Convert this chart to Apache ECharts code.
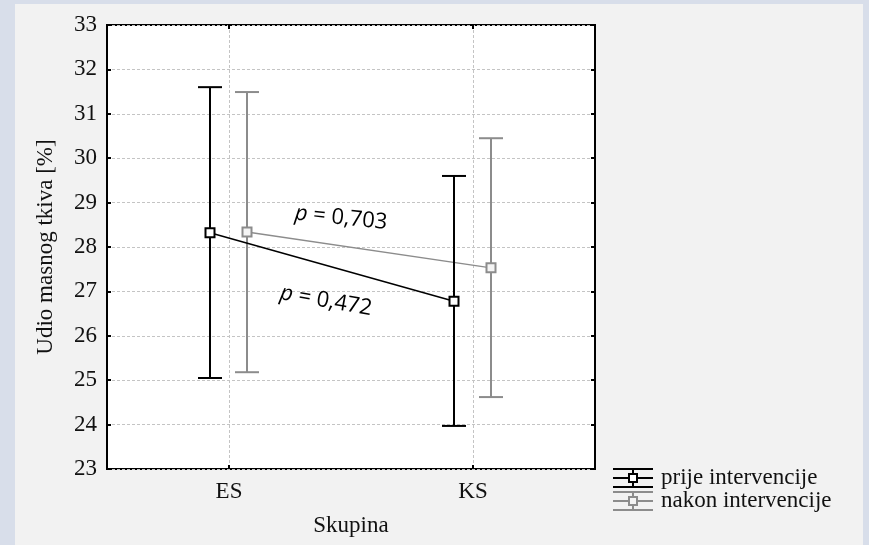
<!DOCTYPE html>
<html>
<head>
<meta charset="utf-8">
<script src="https://cdn.jsdelivr.net/npm/echarts@6/dist/echarts.min.js"></script>
<style>
  html, body { margin: 0; padding: 0; background: #d8deea; }
  #chart { width: 869px; height: 545px; }
</style>
</head>
<body>
<div id="chart"></div>
<script>
// Groups on the x axis
const categories = ['ES', 'KS'];

// Fat tissue share [%]: mean with lower / upper interval limits
const prijeMean = [28.32, 26.78];
const prijeLow  = [25.05, 23.97];
const prijeHigh = [31.60, 29.60];

const nakonMean = [28.34, 27.53];
const nakonLow  = [25.18, 24.62];
const nakonHigh = [31.49, 30.45];

// Series names and p-value notes
const seriesNames = ['prije intervencije', 'nakon intervencije'];
const pNotes = ['0,703', '0,472'];

const SERIF = '"Liberation Serif", "Times New Roman", serif';
const SANS = '"Open Sans", "DejaVu Sans", sans-serif';

function errorBarSeries(name, mean, low, high, color, fill, offset, z) {
  return {
    type: 'custom',
    name: name,
    z: z,
    data: categories.map((c, i) => [i, mean[i], low[i], high[i]]),
    renderItem: function (params, api) {
      const i = api.value(0);
      const pM = api.coord([i, api.value(1)]);
      const pL = api.coord([i, api.value(2)]);
      const pH = api.coord([i, api.value(3)]);
      const x = pM[0] + offset;
      const cap = 12;
      const half = 4.5;
      const children = [];
      const n = params.dataIndex + 1;
      if (n < mean.length) {
        const q = api.coord([n, mean[n]]);
        children.push({
          type: 'line',
          shape: { x1: x, y1: pM[1], x2: q[0] + offset, y2: q[1] },
          style: { stroke: color, lineWidth: 1.5 }
        });
      }
      children.push(
        { type: 'line', shape: { x1: x, y1: pH[1], x2: x, y2: pL[1] }, style: { stroke: color, lineWidth: 2 } },
        { type: 'line', shape: { x1: x - cap, y1: pH[1], x2: x + cap, y2: pH[1] }, style: { stroke: color, lineWidth: 2 } },
        { type: 'line', shape: { x1: x - cap, y1: pL[1], x2: x + cap, y2: pL[1] }, style: { stroke: color, lineWidth: 2 } },
        { type: 'rect', shape: { x: x - half, y: pM[1] - half, width: half * 2, height: half * 2 },
          style: { fill: fill, stroke: color, lineWidth: 2 } }
      );
      return { type: 'group', children: children };
    }
  };
}

// Legend glyph: horizontal error bar with a square marker
function legendGlyph(cx, cy, color, fill) {
  const w = 20, h = 9;
  const lines = [
    [cx - w, cy - h, cx + w, cy - h],
    [cx - w, cy, cx + w, cy],
    [cx - w, cy + h, cx + w, cy + h],
    [cx, cy - h, cx, cy + h]
  ];
  const children = lines.map(l => ({
    type: 'line', shape: { x1: l[0], y1: l[1], x2: l[2], y2: l[3] },
    style: { stroke: color, lineWidth: 2 }
  }));
  children.push({ type: 'rect', shape: { x: cx - 4, y: cy - 4, width: 8, height: 8 },
    style: { fill: fill, stroke: color, lineWidth: 2 } });
  return { type: 'group', children: children };
}

const chart = echarts.init(document.getElementById('chart'), null, { renderer: 'canvas' });

const option = {
  animation: false,
  backgroundColor: '#d8deea',
  grid: {
    left: 107, top: 25, right: 274, bottom: 76,
    show: true, backgroundColor: '#ffffff', borderColor: '#000000', borderWidth: 2
  },
  xAxis: [
    {
      type: 'category',
      data: categories,
      boundaryGap: true,
      name: 'Skupina',
      nameLocation: 'middle',
      nameGap: 45,
      nameTextStyle: { fontFamily: SERIF, fontSize: 23, color: '#111' },
      axisLine: { show: false },
      axisTick: { show: true, inside: true, alignWithLabel: true, length: 4, lineStyle: { color: '#000', width: 2 } },
      axisLabel: { fontFamily: SERIF, fontSize: 23, color: '#111', margin: 11 },
      splitLine: { show: true, alignWithLabel: true, lineStyle: { color: '#c4c4c4', type: [3, 2], width: 1 } }
    },
    {
      type: 'category',
      data: categories,
      position: 'top',
      boundaryGap: true,
      axisLine: { show: false },
      axisTick: { show: true, inside: true, alignWithLabel: true, length: 4, lineStyle: { color: '#000', width: 2 } },
      axisLabel: { show: false },
      splitLine: { show: false }
    }
  ],
  yAxis: [
    {
      type: 'value',
      min: 23, max: 33, interval: 1,
      name: 'Udio masnog tkiva [%]',
      nameLocation: 'middle',
      nameGap: 50,
      nameTextStyle: { fontFamily: SERIF, fontSize: 23, color: '#111' },
      axisLine: { show: false },
      axisTick: { show: true, inside: true, length: 4, lineStyle: { color: '#000', width: 2 } },
      axisLabel: { fontFamily: SERIF, fontSize: 23, color: '#111', margin: 10 },
      splitLine: { show: true, lineStyle: { color: '#c4c4c4', type: [3, 2], width: 1 } }
    },
    {
      type: 'value',
      min: 23, max: 33, interval: 1,
      position: 'right',
      axisLine: { show: false },
      axisTick: { show: true, inside: true, length: 4, lineStyle: { color: '#000', width: 2 } },
      axisLabel: { show: false },
      splitLine: { show: false }
    }
  ],
  series: [
    errorBarSeries(seriesNames[0], prijeMean, prijeLow, prijeHigh, '#000000', '#ffffff', -19, 3),
    errorBarSeries(seriesNames[1], nakonMean, nakonLow, nakonHigh, '#8c8c8c', '#f4f4f4', 18, 2)
  ],
  graphic: [
    { type: 'rect', z: -10, silent: true, shape: { x: 15, y: 4, width: 848, height: 545 }, style: { fill: '#f2f2f2' } },
    {
      type: 'text', x: 341, y: 218, rotation: -6 * Math.PI / 180, z: 10,
      style: {
        text: '{i|p} = ' + pNotes[0],
        rich: { i: { fontStyle: 'italic', fontFamily: SANS, fontSize: 22, fill: '#000' } },
        font: '22px ' + SANS, fill: '#000', align: 'center', verticalAlign: 'middle'
      }
    },
    {
      type: 'text', x: 326, y: 301, rotation: -10 * Math.PI / 180, z: 10,
      style: {
        text: '{i|p} = ' + pNotes[1],
        rich: { i: { fontStyle: 'italic', fontFamily: SANS, fontSize: 22, fill: '#000' } },
        font: '22px ' + SANS, fill: '#000', align: 'center', verticalAlign: 'middle'
      }
    },
    Object.assign(legendGlyph(633, 478, '#000000', '#ffffff'), { z: 10 }),
    Object.assign(legendGlyph(633, 501, '#8c8c8c', '#f4f4f4'), { z: 10 }),
    {
      type: 'text', x: 661, y: 478, z: 10,
      style: { text: seriesNames[0], font: '23px ' + SERIF, fill: '#111', verticalAlign: 'middle' }
    },
    {
      type: 'text', x: 661, y: 501, z: 10,
      style: { text: seriesNames[1], font: '23px ' + SERIF, fill: '#111', verticalAlign: 'middle' }
    }
  ]
};

chart.setOption(option);
</script>
</body>
</html>
